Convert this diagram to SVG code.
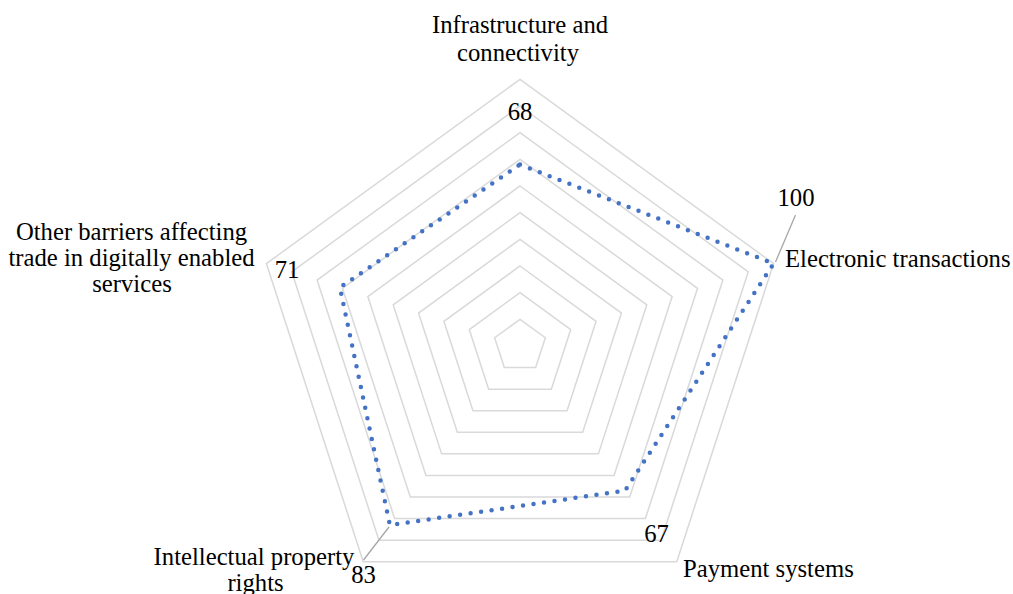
<svg xmlns="http://www.w3.org/2000/svg" width="1013" height="594" viewBox="0 0 1013 594">
<style>
.grid{fill:none;stroke:#D9D9D9;stroke-width:1.5;stroke-linejoin:miter}
.data{fill:none;stroke:#4472C4;stroke-width:4.5;stroke-linecap:round;stroke-dasharray:0 10.6}
.leader{stroke:#A6A6A6;stroke-width:1.3;fill:none}
.m{text-anchor:middle}
</style>
<rect width="1013" height="594" fill="#FFFFFF"/>
<g id="grid">
<polygon class="grid" points="520,319.33 545.36,337.76 535.67,367.57 504.33,367.57 494.64,337.76"/>
<polygon class="grid" points="520,292.67 570.73,329.52 551.35,389.15 488.65,389.15 469.27,329.52"/>
<polygon class="grid" points="520,266 596.09,321.28 567.02,410.72 472.98,410.72 443.91,321.28"/>
<polygon class="grid" points="520,239.33 621.45,313.04 582.70,432.29 457.30,432.29 418.55,313.04"/>
<polygon class="grid" points="520,212.67 646.81,304.80 598.37,453.87 441.63,453.87 393.19,304.80"/>
<polygon class="grid" points="520,186 672.18,296.56 614.05,475.44 425.95,475.44 367.82,296.56"/>
<polygon class="grid" points="520,159.33 697.54,288.32 629.72,497.01 410.28,497.01 342.46,288.32"/>
<polygon class="grid" points="520,132.67 722.90,280.08 645.40,518.59 394.60,518.59 317.10,280.08"/>
<polygon class="grid" points="520,106 748.26,271.84 661.07,540.16 378.93,540.16 291.74,271.84"/>
<polygon class="grid" points="520,79.33 773.63,263.60 676.75,561.73 363.25,561.73 266.37,263.60"/>
</g>
<g id="connectors">
<line class="leader" x1="795.5" y1="215" x2="775.5" y2="262"/>
<line class="leader" x1="363.5" y1="560" x2="389" y2="527"/>
</g>
<g id="series">
<path class="data" d="M520,164.6 L773.6,263.6 L625,490.6 L389.9,525.1 L339.9,287.5 Z"/>
</g>
<g font-family="Liberation Serif, Times New Roman, serif" font-size="24.7" fill="#000000">
<g id="node-infrastructure">
<text class="m" x="520" y="33">Infrastructure and</text>
<text class="m" x="518" y="61">connectivity</text>
<text class="m" x="520" y="120">68</text>
</g>
<g id="node-electronic">
<text x="785" y="267">Electronic transactions</text>
<text class="m" x="796" y="206">100</text>
</g>
<g id="node-payment">
<text x="683" y="577">Payment systems</text>
<text class="m" x="656.5" y="542">67</text>
</g>
<g id="node-ip">
<text class="m" x="254" y="565">Intellectual property</text>
<text class="m" x="255.5" y="591">rights</text>
<text class="m" x="363.5" y="583">83</text>
</g>
<g id="node-other">
<text class="m" x="131.5" y="240">Other barriers affecting</text>
<text class="m" x="131.5" y="266">trade in digitally enabled</text>
<text class="m" x="132" y="292">services</text>
<text class="m" x="287" y="278">71</text>
</g>
</g>
</svg>
